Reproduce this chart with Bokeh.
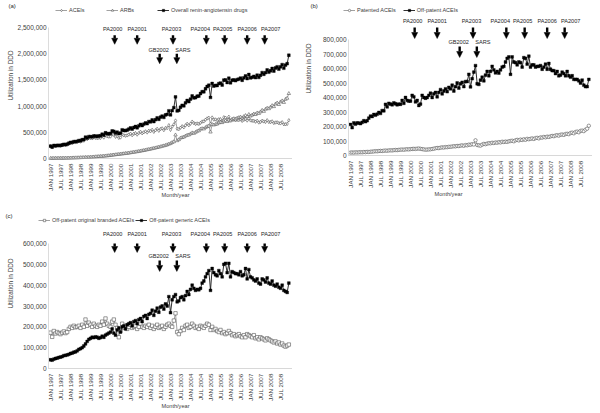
import numpy as np
from bokeh.plotting import figure
from bokeh.models import (ColumnDataSource, FixedTicker, NumeralTickFormatter, Range1d,
                          Legend, LegendItem, Label, LabelSet, Arrow, NormalHead)
from bokeh.layouts import column, row
from bokeh.embed import file_html
from bokeh.resources import INLINE
from bokeh.core.properties import value

FONT = "Liberation Sans"
TXT = "#404040"

# ---------------- data (monthly, Jan 1997 - Dec 2008), values in thousand DDD ----------------
tick_labels = ["JAN 1997", "JUL 1997", "JAN 1998", "JUL 1998", "JAN 1999", "JUL 1999",
               "JAN 2000", "JUL 2000", "JAN 2001", "JUL 2001", "JAN 2002", "JUL 2002",
               "JAN 2003", "JUL 2003", "JAN 2004", "JUL 2004", "JAN 2005", "JUL 2005",
               "JAN 2006", "JUL 2006", "JAN 2007", "JUL 2007", "JAN 2008", "JUL 2008"]

aceis_k = [234, 213, 245, 238, 246, 245, 243, 251, 264, 256, 265, 282,
           298, 296, 311, 308, 314, 328, 322, 341, 341, 387, 368, 395,
           391, 385, 400, 395, 387, 394, 393, 421, 400, 442, 423, 417,
           419, 460, 451, 415, 427, 393, 401, 459, 442, 435, 441, 457,
           473, 445, 472, 485, 457, 486, 509, 481, 500, 518, 497, 530,
           520, 547, 509, 538, 566, 530, 563, 575, 542, 582, 580, 635,
           547, 608, 651, 725, 567, 560, 588, 615, 595, 633, 662, 635,
           664, 703, 676, 660, 668, 660, 680, 705, 708, 741, 764, 778,
           660, 782, 743, 745, 733, 749, 750, 717, 787, 778, 745, 797,
           725, 743, 739, 730, 737, 733, 745, 718, 738, 755, 725, 763,
           727, 720, 718, 703, 720, 687, 698, 720, 707, 698, 730, 697,
           695, 708, 678, 687, 690, 675, 670, 692, 653, 653, 660, 730]

arbs_k = [3, 4, 4, 5, 5, 6, 6, 7, 7, 8, 8, 9,
          10, 11, 12, 13, 14, 15, 17, 18, 19, 21, 22, 24,
          26, 28, 30, 33, 35, 38, 40, 43, 46, 49, 52, 55,
          60, 65, 68, 72, 76, 80, 85, 88, 92, 96, 100, 105,
          110, 115, 120, 126, 130, 137, 142, 148, 155, 160, 168, 175,
          180, 188, 195, 202, 210, 218, 225, 235, 242, 250, 262, 275,
          285, 305, 320, 450, 340, 360, 390, 400, 410, 430, 445, 450,
          470, 490, 480, 500, 520, 530, 560, 570, 565, 590, 610, 620,
          505, 650, 640, 650, 660, 680, 690, 685, 710, 720, 705, 735,
          720, 750, 760, 755, 770, 780, 790, 775, 800, 820, 800, 840,
          810, 830, 850, 840, 870, 860, 890, 920, 900, 940, 960, 950,
          980, 1010, 990, 1040, 1060, 1030, 1080, 1100, 1070, 1130, 1150, 1240]

overall_k = [237, 217, 249, 243, 251, 251, 249, 258, 271, 264, 273, 291,
             308, 307, 323, 321, 328, 343, 339, 359, 360, 408, 390, 419,
             417, 413, 430, 428, 422, 432, 433, 464, 446, 491, 475, 472,
             479, 525, 519, 487, 503, 473, 486, 547, 534, 531, 541, 562,
             583, 560, 592, 611, 587, 623, 651, 629, 655, 678, 665, 705,
             700, 735, 704, 740, 776, 748, 788, 810, 784, 832, 842, 910,
             832, 913, 971, 1175, 907, 920, 978, 1015, 1005, 1063, 1107, 1085,
             1134, 1193, 1156, 1160, 1188, 1190, 1240, 1275, 1273, 1331, 1374, 1398,
             1165, 1432, 1383, 1395, 1393, 1429, 1440, 1402, 1497, 1498, 1450, 1532,
             1445, 1493, 1499, 1485, 1507, 1513, 1535, 1493, 1538, 1575, 1525, 1603,
             1537, 1550, 1568, 1543, 1590, 1547, 1588, 1640, 1607, 1638, 1690, 1647,
             1675, 1718, 1668, 1727, 1750, 1705, 1750, 1792, 1723, 1783, 1810, 1970]

patented_k = [20, 21, 20, 22, 21, 22, 23, 22, 24, 23, 25, 24,
              26, 27, 28, 30, 29, 31, 32, 31, 33, 34, 33, 35,
              36, 35, 37, 38, 37, 39, 40, 41, 40, 42, 43, 42,
              44, 45, 46, 45, 47, 48, 46, 44, 42, 40, 41, 42,
              43, 45, 47, 50, 52, 51, 54, 56, 55, 58, 57, 60,
              60, 62, 64, 63, 66, 65, 68, 70, 67, 72, 70, 75,
              74, 78, 76, 105, 72, 70, 68, 75, 80, 78, 82, 85,
              84, 88, 86, 90, 88, 92, 90, 95, 93, 96, 94, 98,
              100, 102, 98, 105, 108, 104, 110, 107, 112, 108, 115, 112,
              115, 118, 114, 120, 122, 118, 125, 123, 128, 125, 130, 128,
              132, 135, 133, 138, 140, 137, 143, 145, 142, 148, 150, 147,
              155, 158, 153, 162, 165, 160, 170, 172, 168, 178, 185, 205]

offpatent_k = [214, 192, 225, 216, 225, 223, 220, 229, 240, 233, 240, 258,
               272, 269, 283, 278, 285, 297, 290, 310, 308, 353, 335, 360,
               355, 350, 363, 357, 350, 355, 353, 380, 360, 400, 380, 375,
               375, 415, 405, 370, 380, 345, 355, 415, 400, 395, 400, 415,
               430, 400, 425, 435, 405, 435, 455, 425, 445, 460, 440, 470,
               460, 485, 445, 475, 500, 465, 495, 505, 475, 510, 510, 560,
               473, 530, 575, 620, 495, 490, 520, 540, 515, 555, 580, 550,
               580, 615, 590, 570, 580, 568, 590, 610, 615, 645, 670, 680,
               560, 680, 645, 640, 625, 645, 640, 610, 675, 670, 630, 685,
               610, 625, 625, 610, 615, 615, 620, 595, 610, 630, 595, 635,
               595, 585, 585, 565, 580, 550, 555, 575, 565, 550, 580, 550,
               540, 550, 525, 525, 525, 515, 500, 520, 485, 475, 475, 525]

branded_k = [172, 152, 180, 168, 175, 170, 165, 172, 178, 170, 175, 190,
             200, 195, 205, 198, 200, 205, 195, 210, 200, 235, 205, 220,
             210, 200, 215, 205, 200, 210, 205, 225, 210, 240, 215, 205,
             200, 225, 235, 210, 195, 150, 180, 215, 195, 205, 190, 200,
             210, 195, 200, 205, 190, 200, 215, 200, 195, 205, 200, 210,
             195, 205, 190, 200, 210, 195, 200, 205, 190, 200, 210, 215,
             205, 200, 230, 265, 175, 165, 180, 195, 185, 205, 210, 195,
             200, 215, 205, 195, 200, 190, 205, 200, 195, 205, 215, 210,
             185, 200, 185, 190, 180, 175, 185, 170, 175, 165, 170, 180,
             170, 160, 165, 155, 160, 165, 155, 150, 160, 150, 165, 160,
             155, 150, 160, 145, 150, 140, 150, 145, 140, 135, 145, 140,
             135, 130, 125, 130, 120, 125, 115, 120, 110, 105, 110, 115]

generic_k = [42, 40, 45, 48, 50, 53, 55, 57, 62, 63, 65, 68,
             72, 74, 78, 80, 85, 92, 95, 100, 108, 118, 130, 140,
             145, 150, 148, 152, 150, 145, 148, 155, 150, 160, 165, 170,
             175, 190, 170, 160, 185, 195, 175, 200, 205, 190, 210, 215,
             220, 205, 225, 230, 215, 235, 240, 225, 250, 255, 240, 260,
             265, 280, 255, 275, 290, 270, 295, 300, 285, 310, 300, 345,
             268, 330, 345, 355, 320, 325, 340, 345, 330, 350, 370, 355,
             380, 400, 385, 375, 380, 378, 385, 410, 420, 440, 455, 470,
             375, 480, 460, 450, 445, 470, 455, 440, 500, 505, 460, 505,
             440, 465, 460, 455, 455, 450, 465, 445, 450, 480, 430, 475,
             440, 435, 425, 420, 430, 410, 405, 430, 425, 415, 435, 410,
             405, 420, 400, 395, 405, 390, 385, 400, 375, 370, 365, 410]

events = ["PA2000", "PA2001", "GB2002", "PA2003", "SARS", "PA2004", "PA2005", "PA2006", "PA2007"]
event_month = [38.5, 52, 65.5, 73.5, 75.8, 93.5, 104.5, 118, 128.5]
event_row = [0, 0, 1, 0, 1, 0, 0, 0, 0]
# horizontal nudge of each event caption relative to its arrow (months)
event_label_dx = [-1.2, 0, -0.6, -0.9, 3.6, -3.6, -1.2, 0, 3.6]

months = list(range(len(overall_k)))
tick_pos = list(range(0, 6 * len(tick_labels), 6))

# ---------------- layout constants (pixels inside each 300-px-wide panel) ----------------
PPM = 230.0 / 138.0          # pixels per month
X0 = 50.0                    # pixel column of JAN 1997
AXIS_LEFT_M = -1.2           # month at which the value axis sits
X_LAST_M = 145.2             # right end of the category axis


def build_panel(tag, series, y_max, y_step, h, zero_px, top_px, geo, levels):
    """zero_px / top_px: pixel rows (from panel top) of value 0 and of y_max."""
    per_px = y_max / float(zero_px - top_px)
    y_top = zero_px * per_px
    y_bot = -(h - zero_px) * per_px
    w = 300
    p = figure(width=w, height=h, output_backend="svg", toolbar_location=None,
               x_range=Range1d(-X0 / PPM, (w - X0) / PPM),
               y_range=Range1d(y_bot, y_top), min_border=0,
               min_border_left=0, min_border_right=0, min_border_top=0,
               min_border_bottom=0)
    p.outline_line_color = None
    p.xgrid.visible = False
    p.ygrid.visible = False

    items = []
    for name, vals, filled, marker in series:
        src = ColumnDataSource(dict(x=months, y=[v * 1000 for v in vals]))
        if filled:
            ln = p.line("x", "y", source=src, line_color="#1a1a1a", line_width=0.9)
            sc = p.scatter("x", "y", source=src, marker=marker, size=2.8,
                           fill_color="black", line_color="black", line_width=0.4)
        else:
            ln = p.line("x", "y", source=src, line_color="#7a7a7a", line_width=0.7)
            sc = p.scatter("x", "y", source=src, marker=marker, size=3.4,
                           fill_color="white", line_color="#555555", line_width=0.6)
        items.append(LegendItem(label=name, renderers=[ln, sc]))

    lx, ly = geo["legend"]
    legend = Legend(items=items, location=(lx, h - ly - 3), orientation="horizontal",
                    label_text_font_size="5.5px", label_text_font=FONT,
                    label_text_color=TXT, glyph_width=12, glyph_height=6,
                    label_height=6, label_standoff=2, spacing=geo["spacing"],
                    padding=0, margin=0, border_line_color=None,
                    background_fill_alpha=0)
    p.add_layout(legend)

    # ---- category (time) axis, pinned at value 0
    xa = p.xaxis[0]
    xa.fixed_location = 0
    xa.bounds = (AXIS_LEFT_M, X_LAST_M)
    xa.ticker = FixedTicker(ticks=tick_pos)
    xa.major_label_overrides = {t: lab for t, lab in zip(tick_pos, tick_labels)}
    xa.major_label_orientation = np.pi / 2
    xa.major_label_text_font_size = "6.2px"
    xa.major_label_text_font = FONT
    xa.major_label_text_color = TXT
    xa.major_label_standoff = 5
    xa.axis_line_color = "#b0b0b0"
    xa.axis_line_dash = "1 1"
    xa.major_tick_line_color = None
    xa.minor_tick_line_color = None
    xa.major_tick_out = 0
    xa.major_tick_in = 0
    xa.minor_tick_out = 0
    xa.minor_tick_in = 0

    # ---- value axis, pinned at the left edge of the plot area
    ya = p.yaxis[0]
    ya.fixed_location = AXIS_LEFT_M
    ya.ticker = FixedTicker(ticks=list(range(0, y_max + 1, y_step)))
    ya.formatter = NumeralTickFormatter(format="0,0")
    ya.bounds = (0, y_max)
    ya.major_label_text_font_size = "6.5px"
    ya.major_label_text_font = FONT
    ya.major_label_text_color = TXT
    ya.major_label_standoff = 2
    ya.axis_line_color = "#dcdcdc"
    ya.major_tick_line_color = None
    ya.minor_tick_line_color = None
    ya.major_tick_out = 0
    ya.major_tick_in = 0
    ya.minor_tick_out = 0
    ya.minor_tick_in = 0

    # axis titles and panel tag
    yx, yy = geo["ytitle"]
    p.add_layout(Label(x=yx, y=h - yy, x_units="screen", y_units="screen",
                       text="Utilization in DDD", angle=np.pi / 2, text_font=FONT,
                       text_font_size="6.4px", text_color=TXT, text_align="center",
                       text_baseline="middle"))
    xx, xy = geo["xtitle"]
    p.add_layout(Label(x=xx, y=h - xy, x_units="screen", y_units="screen",
                       text="Month/year", text_font=FONT, text_font_size="5.6px",
                       text_color=TXT, text_align="center", text_baseline="middle"))
    tx, ty = geo["tag"]
    p.add_layout(Label(x=tx, y=h - ty, x_units="screen", y_units="screen",
                       text=tag, text_font=FONT, text_font_size="6px",
                       text_color="#262626", text_align="left", text_baseline="middle"))

    # event annotations
    lab_x, lab_y = [], []
    for m, r, dx in zip(event_month, event_row, event_label_dx):
        lvl, top, tip = levels[r]
        lab_x.append(m + dx)
        lab_y.append(lvl)
        p.add_layout(Arrow(end=NormalHead(size=6, fill_color="black", line_color="black",
                                          line_width=0.5),
                           x_start=m, y_start=top, x_end=m, y_end=tip,
                           line_color="black", line_width=2.4))
    lsrc = ColumnDataSource(dict(x=lab_x, y=lab_y, t=events))
    p.add_layout(LabelSet(x="x", y="y", text="t", source=lsrc, text_align="center",
                          text_baseline="middle", text_font_size="5.6px",
                          text_font=value(FONT), text_color="#262626"))
    return p


pa = build_panel("(a)",
                 [("ACEIs", aceis_k, False, "diamond"),
                  ("ARBs", arbs_k, False, "triangle"),
                  ("Overall renin-angiotensin drugs", overall_k, True, "square")],
                 2500000, 500000, 205, 158, 27,
                 dict(legend=(55, 10), spacing=17, ytitle=(10, 75), xtitle=(175, 194),
                      tag=(8, 5)),
                 [(2480000, 2350000, 2180000), (2080000, 2000000, 1810000)])

pb = build_panel("(b)",
                 [("Patented ACEIs", patented_k, False, "circle"),
                  ("Off-patent ACEIs", offpatent_k, True, "square")],
                 800000, 100000, 205, 155, 39,
                 dict(legend=(43, 10), spacing=7, ytitle=(8, 68), xtitle=(148, 193),
                      tag=(10, 5)),
                 [(931000, 883000, 807000), (780000, 752000, 676000)])

pc = build_panel("(c)",
                 [("Off-patent original branded ACEIs", branded_k, False, "square"),
                  ("Off-patent generic ACEIs", generic_k, True, "square")],
                 600000, 100000, 208, 163, 38,
                 dict(legend=(38, 15), spacing=1, ytitle=(10, 78), xtitle=(175, 200),
                      tag=(5, 10)),
                 [(648000, 600000, 557000), (542000, 518000, 466000)])

layout = column(row(pa, pb), pc)
open("out.html", "w").write(file_html(layout, INLINE))
